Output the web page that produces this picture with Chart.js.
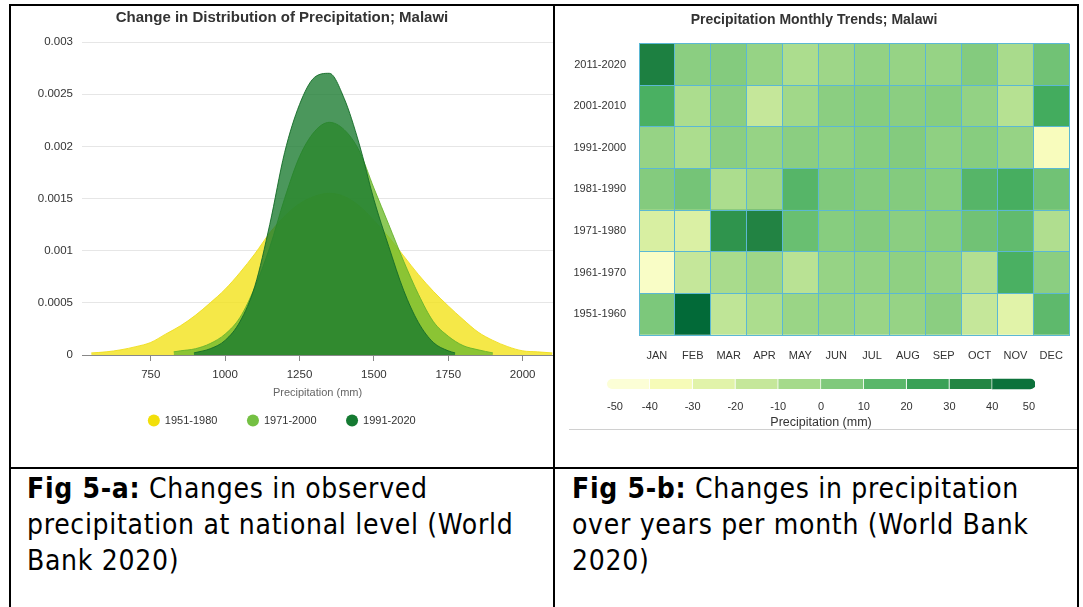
<!DOCTYPE html>
<html>
<head>
<meta charset="utf-8">
<script src="https://cdn.jsdelivr.net/npm/chart.js@4.4.0/dist/chart.umd.min.js"></script>
<style>
html, body { margin:0; padding:0; background:#fff; }
body { width:1083px; height:607px; overflow:hidden; position:relative; }
.ln { position:absolute; background:#000; }
canvas { position:absolute; }
.cap { position:absolute; font-family:"DejaVu Sans Condensed","DejaVu Sans",sans-serif; font-size:28px; line-height:36px; letter-spacing:0.7px; color:#000; white-space:nowrap; }
</style>
</head>
<body>
<!-- table borders -->
<div class="ln" style="left:9px;top:4px;width:2px;height:603px"></div>
<div class="ln" style="left:9px;top:4px;width:1070px;height:2px"></div>
<div class="ln" style="left:553px;top:4px;width:2px;height:603px"></div>
<div class="ln" style="left:1077px;top:4px;width:2px;height:603px"></div>
<div class="ln" style="left:9px;top:467px;width:1070px;height:2px"></div>
<div style="position:absolute;left:569px;top:429px;width:508px;height:1px;background:#d0d0d0"></div>

<canvas id="dist" width="542" height="461" style="left:11px;top:6px"></canvas>
<canvas id="heat" width="522" height="365" style="left:555px;top:6px"></canvas>
<canvas id="scale" width="522" height="59" style="left:555px;top:371px"></canvas>

<div class="cap" style="left:27px;top:471px"><b>Fig 5-a:</b> Changes in observed<br>precipitation at national level (World<br>Bank 2020)</div>
<div class="cap" style="left:572px;top:471px"><b>Fig 5-b:</b> Changes in precipitation<br>over years per month (World Bank<br>2020)</div>

<script>
// 左: 降水量の分布
const PERIODS     = ["1951-1980", "1971-2000", "1991-2020"];
const X_1951_1980 = [550,600,650,700,750,800,850,900,950,1000,1050,1100,1150,1200,1250,1300,1350,1400,1450,1500,1550,1600,1650,1700,1750,1800,1850,1900,1950,2000,2050,2100];
const Y_1951_1980 = [0.00002,0.00003,0.00005,0.00008,0.00012,0.0002,0.00028,0.00038,0.0005,0.00063,0.00079,0.00097,0.00117,0.00133,0.00145,0.00152,0.00155,0.00152,0.00143,0.00129,0.00113,0.00095,0.00077,0.00061,0.00047,0.00034,0.00022,0.00014,0.00008,0.00004,0.00003,0.00002];
const X_1971_2000 = [827,850,900,950,1000,1050,1100,1150,1200,1250,1300,1350,1400,1450,1500,1550,1600,1650,1700,1750,1800,1850,1900];
const Y_1971_2000 = [0.00003,0.00004,0.00006,0.00011,0.0002,0.00036,0.00065,0.00103,0.0015,0.0019,0.00214,0.00223,0.00216,0.00196,0.0016,0.00125,0.0009,0.00058,0.00032,0.00018,0.00009,0.00005,0.00002];
const X_1991_2020 = [895,950,1000,1050,1100,1150,1200,1250,1300,1350,1400,1450,1500,1550,1600,1650,1700,1750,1773];
const Y_1991_2020 = [0.00002,0.00006,0.00014,0.00032,0.00066,0.00125,0.00194,0.0024,0.00266,0.0027,0.00246,0.00203,0.00149,0.00104,0.00062,0.00031,0.00012,0.00004,0.00002];
const X_TICKS     = [750, 1000, 1250, 1500, 1750, 2000];
const Y_TICKS     = [0, 0.0005, 0.001, 0.0015, 0.002, 0.0025, 0.003];

// 右: 月別の変化 (上の行から)
const MONTHS  = ["JAN","FEB","MAR","APR","MAY","JUN","JUL","AUG","SEP","OCT","NOV","DEC"];
const DECADES = ["2011-2020","2001-2010","1991-2000","1981-1990","1971-1980","1961-1970","1951-1960"];
const ANOMALY = [
    [ 38,   2,   4,  -1,  -7,  -3,   0,  -1,  -1,   4,  -6,   9],
    [ 19,  -7,   2, -15,  -4,   2,   3,   2,   3,   0, -10,  21],
    [ -1,  -7,   2,  -1,   2,   1,   3,   4,   1,   3,  -1, -37],
    [  4,   8,  -7,  -3,  16,   5,   4,   4,   3,  16,  20,   9],
    [-21, -22,  30,  36,  11,   3,   4,   2,   3,   9,  13,  -8],
    [-40, -15,  -6,  -3, -11,  -1,   0,   1,   0,  -9,  19,   2],
    [  6,  49, -13,  -7,  -2,  -1,  -2,  -1,   2, -15, -25,  14]
];
const SCALE_TICKS = [-50,-40,-30,-20,-10,0,10,20,30,40,50];

const YLGN      = ["#ffffe5","#f7fcb9","#d9f0a3","#addd8e","#78c679","#41ab5d","#238443","#006837"];
const CELL_LINE = "#5bb8d4";

Chart.defaults.font.family = '"Liberation Sans", Arial, sans-serif';
Chart.defaults.color = "#333";

function hexToRgb(h){
    return [parseInt(h.slice(1,3),16), parseInt(h.slice(3,5),16), parseInt(h.slice(5,7),16)];
}

// 値 -> 色
function ramp(v){
    let t = (v - SCALE_TICKS[0]) / (SCALE_TICKS[SCALE_TICKS.length-1] - SCALE_TICKS[0]);
    t = Math.max(0, Math.min(1, t));
    const p = t * (YLGN.length - 1);
    const i = Math.min(Math.floor(p), YLGN.length - 2);
    const f = p - i;
    const a = hexToRgb(YLGN[i]), b = hexToRgb(YLGN[i+1]);
    return "rgb(" + a.map((c,k) => Math.round(c + (b[k]-c)*f)).join(",") + ")";
}

function pts(xs, ys){ return xs.map((x,i) => ({x:x, y:ys[i]})); }

const LEGEND_COLORS = ["#f2df0a", "#74c043", "#157a32"];

new Chart(document.getElementById("dist"), {
    type: "line",
    data: {
        datasets: [
            { label:PERIODS[0], data:pts(X_1951_1980,Y_1951_1980), backgroundColor:"rgba(242,226,20,0.78)", borderColor:"rgba(240,222,30,0.9)", borderWidth:1, fill:"origin", order:3 },
            { label:PERIODS[1], data:pts(X_1971_2000,Y_1971_2000), backgroundColor:"rgba(112,188,48,0.8)",  borderColor:"rgba(104,180,44,0.9)", borderWidth:1, fill:"origin", order:2 },
            { label:PERIODS[2], data:pts(X_1991_2020,Y_1991_2020), backgroundColor:"rgba(24,122,46,0.78)",  borderColor:"rgba(20,108,40,0.9)",  borderWidth:1, fill:"origin", order:1 },
        ]
    },
    options: {
        responsive:false, animation:false,
        elements: { point:{ radius:0 }, line:{ cubicInterpolationMode:"monotone" } },
        layout: { padding:{ left:0, right:0, top:0, bottom:31 } },
        plugins: {
            title: { display:true, text:"Change in Distribution of Precipitation; Malawi", color:"#333", font:{ size:15, weight:"bold" }, padding:{ top:3, bottom:15 } },
            legend: {
                position:"bottom",
                labels: {
                    usePointStyle:true, pointStyle:"circle", boxWidth:11, boxHeight:8.5, padding:30, color:"#333", font:{ size:11 },
                    sort: (a, b) => a.datasetIndex - b.datasetIndex,
                    generateLabels(chart){
                        const items = Chart.defaults.plugins.legend.labels.generateLabels(chart);
                        items.forEach(it => {
                            it.fillStyle   = LEGEND_COLORS[it.datasetIndex];
                            it.strokeStyle = LEGEND_COLORS[it.datasetIndex];
                            it.lineWidth   = 0;
                        });
                        return items;
                    }
                }
            },
            tooltip: { enabled:false }
        },
        scales: {
            x: {
                type:"linear", min:519, max:2102,
                afterBuildTicks: s => { s.ticks = X_TICKS.map(v => ({value:v})); },
                afterFit: s => { s.height = 30; },
                grid: { drawOnChartArea:false, drawTicks:true, tickLength:6, color:"#888" },
                border: { color:"#888" },
                ticks: { color:"#333", font:{ size:11.5 }, padding:7, callback: v => String(v) },
                title: { display:true, text:"Precipitation (mm)", color:"#666", font:{ size:11 }, padding:{ top:0, bottom:-15 } }
            },
            y: {
                min:0, max:0.003,
                afterBuildTicks: s => { s.ticks = Y_TICKS.map(v => ({value:v})); },
                afterFit: s => { s.width = 71; },
                grid: { color:"#e6e6e6", drawTicks:false },
                border: { display:false },
                ticks: { color:"#333", font:{ size:11.5 }, padding:9, callback: v => String(+v.toFixed(4)) }
            }
        }
    }
});

// ヒートマップ: 積み上げ棒 (下の行から)
const heatSets = [];
for (let k = 0; k < DECADES.length; k++){
    const r = DECADES.length - 1 - k;
    heatSets.push({
        label: DECADES[r],
        data: MONTHS.map(() => 1),
        backgroundColor: ANOMALY[r].map(ramp),
        borderWidth: 0,
        barPercentage: 1,
        categoryPercentage: 1
    });
}

new Chart(document.getElementById("heat"), {
    type: "bar",
    data: { labels: MONTHS, datasets: heatSets },
    options: {
        responsive:false, animation:false,
        layout: { padding:{ right:4 } },
        plugins: {
            title: { display:true, text:"Precipitation Monthly Trends; Malawi", color:"#333", font:{ size:14, weight:"bold" }, padding:{ top:6, bottom:15 } },
            legend: { display:false },
            tooltip: { enabled:false }
        },
        scales: {
            x: {
                stacked:true,
                afterFit: s => { s.height = 36; },
                grid: { color:CELL_LINE, drawTicks:false, offset:true, z:1 },
                border: { color:CELL_LINE, z:1 },
                ticks: { color:"#333", font:{ size:11 }, padding:14, autoSkip:false, maxRotation:0 }
            },
            y: {
                stacked:true, min:0, max:DECADES.length,
                afterBuildTicks: s => {
                    const t = [];
                    for (let v = 0; v <= DECADES.length; v += 0.5) t.push({value:v});
                    s.ticks = t;
                },
                afterFit: s => { s.width = 84; },
                grid: { color: c => Number.isInteger(c.tick.value) ? CELL_LINE : "rgba(0,0,0,0)", drawTicks:false, z:1 },
                border: { color:CELL_LINE, z:1 },
                ticks: { color:"#333", font:{ size:11 }, padding:13, autoSkip:false,
                         callback: v => Number.isInteger(v) ? "" : DECADES[DECADES.length - 1 - Math.floor(v)] }
            }
        }
    }
});

// カラーバー
const last = SCALE_TICKS.length - 2;
new Chart(document.getElementById("scale"), {
    type: "bar",
    data: {
        labels: [""],
        datasets: SCALE_TICKS.slice(0, -1).map((lo, i) => ({
            data: [[lo, SCALE_TICKS[i+1]]],
            backgroundColor: ramp((lo + SCALE_TICKS[i+1]) / 2),
            borderColor: "rgba(255,255,255,0.8)",
            borderWidth: i < last ? { right:1 } : 0,
            borderSkipped: false,
            borderRadius: i === 0 ? { topLeft:5, bottomLeft:5 } : (i === last ? { topRight:5, bottomRight:5 } : 0),
            grouped: false,
            barThickness: 10
        }))
    },
    options: {
        indexAxis:"y", responsive:false, animation:false,
        layout: { padding:{ left:52, right:42 } },
        plugins: { legend:{ display:false }, tooltip:{ enabled:false } },
        scales: {
            x: {
                min:-50, max:50,
                afterBuildTicks: s => { s.ticks = SCALE_TICKS.map(v => ({value:v})); },
                afterFit: s => { s.height = 33; },
                grid: { display:false, drawTicks:false },
                border: { display:false },
                ticks: { align:"inner", color:"#333", font:{ size:11 }, padding:3 },
                title: { display:true, text:"Precipitation (mm)", color:"#333", font:{ size:12.5 }, padding:{ top:3, bottom:0 } }
            },
            y: { display:false }
        }
    }
});
</script>
</body>
</html>
